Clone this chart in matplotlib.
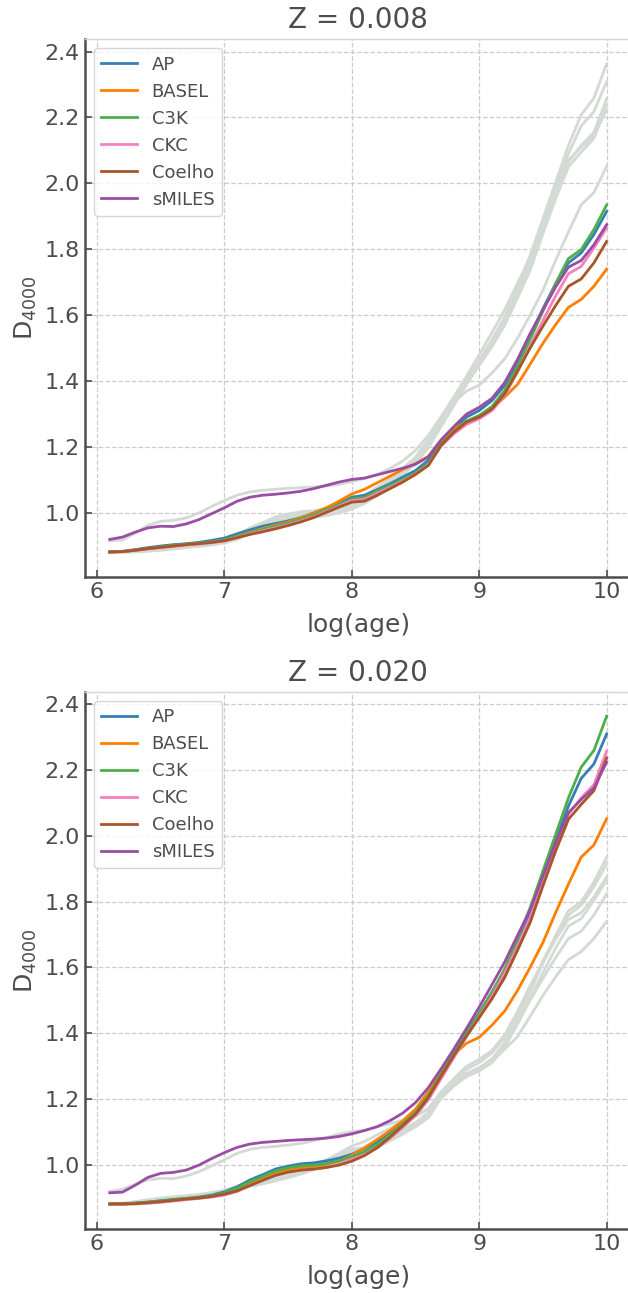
import numpy as np
import matplotlib
matplotlib.use("Agg")
import matplotlib.pyplot as plt

# log(age) grid shared by all curves
logage = np.round(np.arange(6.1, 10.05, 0.1), 1)

names = ["AP", "BASEL", "C3K", "CKC", "Coelho", "sMILES"]
colors = ["#377eb8", "#ff7f00", "#4daf4a", "#f781bf", "#a65628", "#984ea3"]

# D4000 at Z = 0.008
ap_008 = [0.882, 0.884, 0.889, 0.895, 0.900, 0.904, 0.907, 0.911, 0.917, 0.924,
          0.937, 0.949, 0.960, 0.968, 0.976, 0.986, 1.000, 1.015, 1.031, 1.048,
          1.054, 1.071, 1.089, 1.109, 1.129, 1.160, 1.215, 1.256, 1.291, 1.311,
          1.341, 1.387, 1.458, 1.538, 1.620, 1.696, 1.759, 1.789, 1.845, 1.915]
basel_008 = [0.882, 0.883, 0.887, 0.892, 0.897, 0.901, 0.905, 0.908, 0.912, 0.918,
             0.930, 0.942, 0.953, 0.963, 0.973, 0.985, 0.999, 1.016, 1.036, 1.058,
             1.072, 1.092, 1.112, 1.132, 1.150, 1.172, 1.220, 1.256, 1.276, 1.291,
             1.316, 1.352, 1.390, 1.452, 1.515, 1.572, 1.624, 1.648, 1.688, 1.740]
c3k_008 = [0.882, 0.883, 0.888, 0.893, 0.897, 0.901, 0.905, 0.908, 0.913, 0.919,
           0.930, 0.941, 0.951, 0.960, 0.970, 0.981, 0.994, 1.010, 1.026, 1.043,
           1.048, 1.067, 1.084, 1.102, 1.122, 1.149, 1.208, 1.247, 1.279, 1.296,
           1.323, 1.372, 1.445, 1.527, 1.613, 1.697, 1.772, 1.799, 1.860, 1.935]
ckc_008 = [0.882, 0.883, 0.887, 0.891, 0.895, 0.899, 0.903, 0.906, 0.910, 0.915,
           0.926, 0.937, 0.946, 0.955, 0.965, 0.976, 0.989, 1.005, 1.021, 1.038,
           1.042, 1.060, 1.078, 1.097, 1.118, 1.145, 1.203, 1.240, 1.269, 1.286,
           1.311, 1.357, 1.428, 1.507, 1.584, 1.659, 1.726, 1.748, 1.804, 1.865]
coelho_008 = [0.882, 0.883, 0.887, 0.892, 0.896, 0.900, 0.904, 0.907, 0.911, 0.916,
              0.925, 0.935, 0.943, 0.952, 0.962, 0.973, 0.986, 1.002, 1.018, 1.033,
              1.036, 1.054, 1.074, 1.094, 1.117, 1.144, 1.205, 1.245, 1.276, 1.291,
              1.316, 1.362, 1.430, 1.501, 1.567, 1.630, 1.688, 1.710, 1.759, 1.824]
smiles_008 = [0.920, 0.927, 0.942, 0.955, 0.960, 0.959, 0.967, 0.980, 0.998, 1.016,
              1.036, 1.048, 1.054, 1.057, 1.061, 1.066, 1.074, 1.084, 1.094, 1.102,
              1.106, 1.116, 1.126, 1.136, 1.148, 1.170, 1.222, 1.262, 1.300, 1.321,
              1.348, 1.396, 1.466, 1.545, 1.616, 1.686, 1.746, 1.766, 1.814, 1.875]

# D4000 at Z = 0.020
ap_020 = [0.882, 0.883, 0.885, 0.888, 0.892, 0.896, 0.899, 0.903, 0.909, 0.919,
          0.934, 0.955, 0.971, 0.988, 0.997, 1.004, 1.007, 1.013, 1.021, 1.033,
          1.050, 1.071, 1.099, 1.130, 1.165, 1.215, 1.280, 1.342, 1.403, 1.462,
          1.525, 1.592, 1.678, 1.767, 1.878, 1.984, 2.090, 2.174, 2.218, 2.309]
basel_020 = [0.882, 0.882, 0.884, 0.887, 0.890, 0.894, 0.897, 0.900, 0.905, 0.913,
             0.926, 0.945, 0.962, 0.977, 0.986, 0.992, 0.996, 1.002, 1.012, 1.030,
             1.053, 1.078, 1.105, 1.135, 1.170, 1.222, 1.285, 1.336, 1.370, 1.388,
             1.425, 1.468, 1.530, 1.601, 1.676, 1.767, 1.853, 1.935, 1.972, 2.052]
c3k_020 = [0.882, 0.883, 0.884, 0.887, 0.891, 0.895, 0.898, 0.902, 0.907, 0.916,
           0.930, 0.950, 0.966, 0.982, 0.992, 0.998, 1.000, 1.005, 1.013, 1.026,
           1.040, 1.062, 1.092, 1.125, 1.160, 1.210, 1.276, 1.339, 1.400, 1.460,
           1.525, 1.595, 1.686, 1.782, 1.893, 2.004, 2.115, 2.208, 2.259, 2.363]
ckc_020 = [0.881, 0.881, 0.882, 0.884, 0.887, 0.891, 0.895, 0.899, 0.903, 0.909,
           0.920, 0.938, 0.954, 0.969, 0.979, 0.985, 0.988, 0.993, 1.003, 1.018,
           1.032, 1.053, 1.082, 1.115, 1.150, 1.198, 1.262, 1.326, 1.390, 1.450,
           1.513, 1.583, 1.664, 1.752, 1.863, 1.969, 2.065, 2.115, 2.155, 2.257]
coelho_020 = [0.882, 0.882, 0.883, 0.886, 0.889, 0.893, 0.897, 0.900, 0.905, 0.912,
              0.922, 0.938, 0.954, 0.969, 0.979, 0.985, 0.988, 0.993, 1.000, 1.012,
              1.029, 1.053, 1.085, 1.120, 1.155, 1.205, 1.270, 1.332, 1.392, 1.448,
              1.505, 1.570, 1.652, 1.737, 1.848, 1.954, 2.050, 2.095, 2.137, 2.236]
smiles_020 = [0.916, 0.918, 0.939, 0.963, 0.975, 0.978, 0.985, 1.000, 1.020, 1.038,
              1.054, 1.064, 1.069, 1.072, 1.075, 1.077, 1.079, 1.082, 1.087, 1.095,
              1.105, 1.117, 1.135, 1.158, 1.190, 1.235, 1.292, 1.352, 1.415, 1.480,
              1.548, 1.617, 1.697, 1.775, 1.878, 1.979, 2.070, 2.110, 2.145, 2.224]

d4000 = {
    "0.008": [ap_008, basel_008, c3k_008, ckc_008, coelho_008, smiles_008],
    "0.020": [ap_020, basel_020, c3k_020, ckc_020, coelho_020, smiles_020],
}

text_col = "#4d4d4d"
plt.rcParams["font.family"] = "DejaVu Sans"
plt.rcParams["text.color"] = text_col
plt.rcParams["axes.labelcolor"] = text_col
plt.rcParams["xtick.color"] = text_col
plt.rcParams["ytick.color"] = text_col

fig = plt.figure(figsize=(6.28, 12.93), dpi=100)

# [left, bottom, width, height]
positions = {"0.008": [0.1352, 0.5540, 0.8704, 0.4156],
             "0.020": [0.1352, 0.0497, 0.8704, 0.4153]}

for zkey, other in [("0.008", "0.020"), ("0.020", "0.008")]:
    ax = fig.add_axes(positions[zkey])

    # the other metallicity in the background
    for vals in d4000[other]:
        ax.plot(logage, vals, color="#d3d9d3", lw=2.0, zorder=1)

    for name, col, vals in zip(names, colors, d4000[zkey]):
        ax.plot(logage, vals, color=col, lw=2.0, label=name, zorder=2)

    ax.set_title("Z = " + zkey, fontsize=20, color=text_col, pad=8)
    ax.set_xlabel("log(age)", fontsize=18, labelpad=8)
    ax.set_ylabel(r"$\mathrm{D_{4000}}$", fontsize=18)
    ax.set_xticks([6, 7, 8, 9, 10])
    ax.set_yticks([1.0, 1.2, 1.4, 1.6, 1.8, 2.0, 2.2, 2.4])
    ax.tick_params(direction="in", labelsize=16, length=5, width=1.2)
    ax.grid(True, ls="--", color="#cccccc", lw=0.9)
    ax.set_axisbelow(True)

    for s in ["left", "bottom"]:
        ax.spines[s].set_color(text_col)
        ax.spines[s].set_linewidth(1.8)
    ax.spines["top"].set_color("#d6d6d6")
    ax.spines["top"].set_linewidth(1.0)
    ax.spines["right"].set_visible(False)

    leg = ax.legend(loc="upper left", fontsize=13, frameon=True, fancybox=True)
    leg.get_frame().set_edgecolor("#cccccc")
    for t in leg.get_texts():
        t.set_color(text_col)

fig.savefig("out.png", dpi=100)
